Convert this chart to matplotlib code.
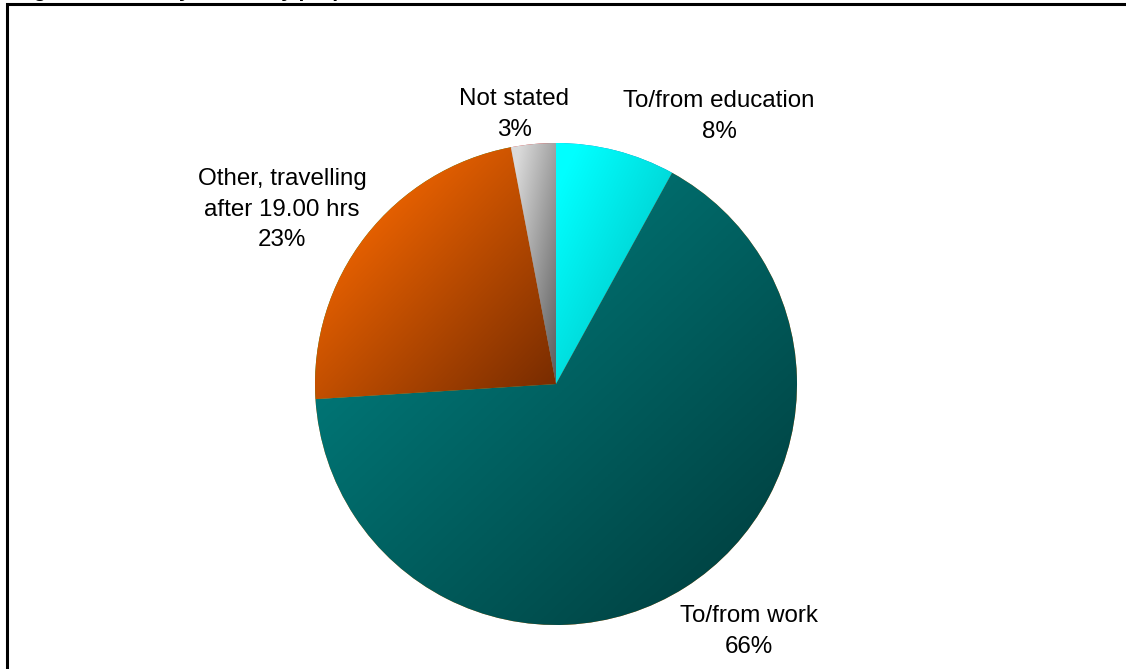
import numpy as np
import matplotlib.pyplot as plt
from matplotlib.colors import LinearSegmentedColormap
from matplotlib.patches import Rectangle

# -------------------- Data --------------------

labels = ['To/from education', 'To/from work',
          'Other, travelling\nafter 19.00 hrs', 'Not stated']
shares = [8, 66, 23, 3]          # (%) share of journeys
light = ['#00FFFF', '#008080', '#FF6C00', '#DADADA']   # gradient start (top-left)
dark = ['#00B8B8', '#003A3A', '#742A00', '#5A5A5A']    # gradient end (bottom-right)

title = 'Figure 4: Journeys made by purpose'

# -------------------- Figure --------------------

plt.rcParams['font.family'] = ['Liberation Sans', 'DejaVu Sans']

fig = plt.figure(figsize=(11.26, 6.69), dpi=100)
ax = fig.add_axes([0, 0, 1, 1])

wedges, _ = ax.pie(shares, startangle=90, counterclock=False,
                   center=(556, 285), radius=241, frame=True,
                   wedgeprops=dict(linewidth=0))

# diagonal shading inside each slice
for w, c0, c1 in zip(wedges, light, dark):
    ext = w.get_path().get_extents()
    gx, gy = np.meshgrid(np.linspace(0, 1, 200), np.linspace(1, 0, 200))
    grad = (gx + gy) / 2
    cmap = LinearSegmentedColormap.from_list('', [c0, c1])
    im = ax.imshow(grad, cmap=cmap, vmin=0.1, vmax=1, origin='lower',
                   extent=(ext.x0, ext.x1, ext.y0, ext.y1),
                   aspect='auto', interpolation='bilinear', zorder=2)
    im.set_clip_path(w)

# -------------------- Labels --------------------

label_pos = [(719, 552.5), (749, 37.5), (282, 459), (514, 554.5)]
for lab, val, (x, y) in zip(labels, shares, label_pos):
    ax.text(x, y, f'{lab}\n{val}%', ha='center', va='center',
            multialignment='center', fontsize=17.4, linespacing=1.5, zorder=5)

# heading sits mostly above the top edge
ax.text(15, 672, title, fontsize=15, fontweight='bold', va='baseline',
        clip_on=False)

ax.add_patch(Rectangle((7, -20), 1200, 685, fill=False, edgecolor='black',
                       linewidth=2.2, zorder=6))

ax.set_xlim(0, 1126)
ax.set_ylim(0, 669)
ax.set_aspect('auto')
ax.axis('off')

fig.savefig('out.png', dpi=100)
